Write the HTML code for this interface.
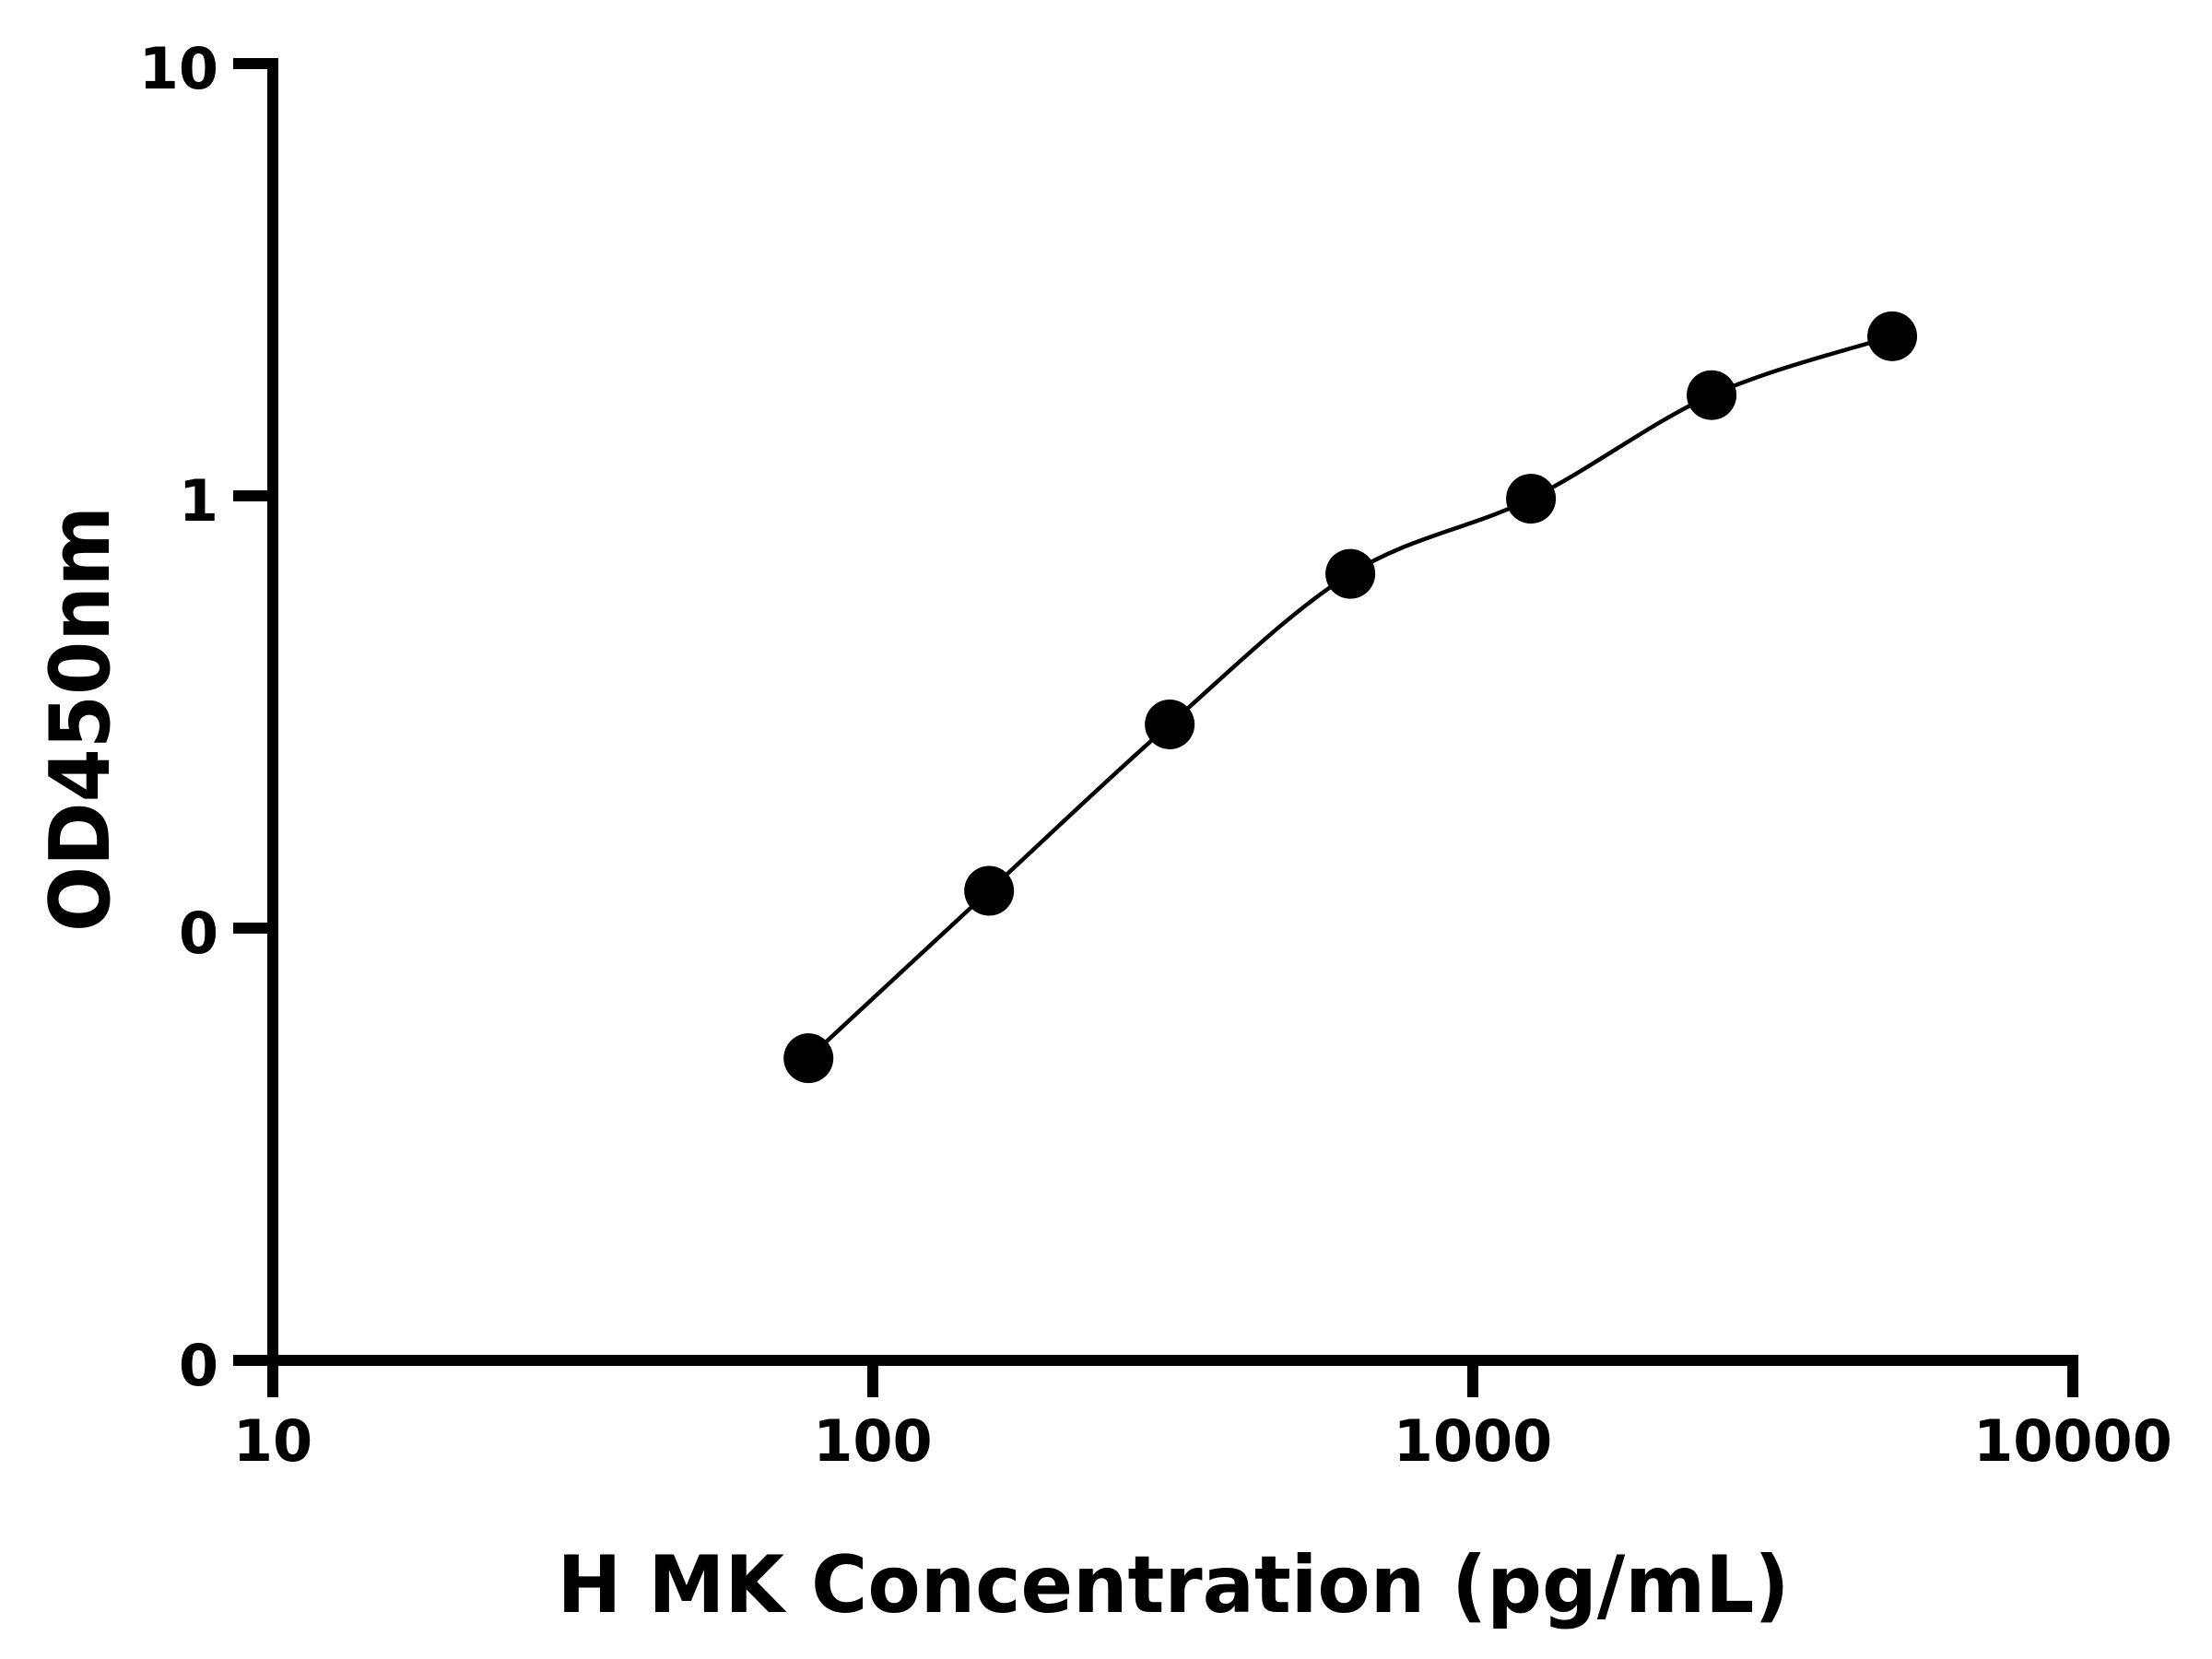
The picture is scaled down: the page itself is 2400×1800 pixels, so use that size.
<!DOCTYPE html>
<html><head><meta charset="utf-8"><style>html,body{margin:0;padding:0;background:#fff}svg{display:block}text{font-family:"DejaVu Sans","Liberation Sans",sans-serif;font-weight:bold;fill:#000}</style></head>
<body>
<svg id="chart" width="2400" height="1800" viewBox="0 0 2400 1800" xmlns="http://www.w3.org/2000/svg">
<g id="axes"></g>
<path id="curve" fill="none" stroke="#000" stroke-width="4.5"></path>
<g id="points"></g>
<text x="1273" y="1749" text-anchor="middle" font-size="86" textLength="1337" lengthAdjust="spacingAndGlyphs">H MK Concentration (pg/mL)</text>
<text transform="translate(118,780) rotate(-90)" x="0" y="0" text-anchor="middle" font-size="90" textLength="462" lengthAdjust="spacingAndGlyphs">OD450nm</text>
</svg>
<script>
const concentrations = [78.125, 156.25, 312.5, 625, 1250, 2500, 5000];
const odValues = [0.05, 0.122, 0.296, 0.66, 0.985, 1.71, 2.34];
const xTickValues = [10, 100, 1000, 10000];
const xTickLabels = ["10", "100", "1000", "10000"];
const yTickValues = [10, 1, 0.1, 0.01];
const yTickLabels = ["10", "1", "0", "0"];

const X0 = 296, X1 = 2249, Y0 = 1476, Y1 = 69;
function xs(v){ return X0 + (Math.log10(v) - 1) / 3 * (X1 - X0); }
function ys(v){ return Y0 - (Math.log10(v) + 2) / 3 * (Y0 - Y1); }
const NS = "http://www.w3.org/2000/svg";
const axes = document.getElementById('axes');
function mk(tag, attrs, parent){ const e = document.createElementNS(NS, tag); for (const k in attrs) e.setAttribute(k, attrs[k]); parent.appendChild(e); return e; }

const yAxis = mk('line', {x1: X0, y1: Y1 - 6, x2: X0, y2: Y0 + 6, stroke: '#000', 'stroke-width': 12}, axes);


const xAxis = mk('line', {x1: X0 - 6, y1: Y0, x2: X1 + 6, y2: Y0, stroke: '#000', 'stroke-width': 12}, axes);



xTickValues.forEach((v, i) => {
  const x = xs(v);
  const t = mk('line', {x1: x, y1: Y0, x2: x, y2: 1516, stroke: '#000', 'stroke-width': 12}, axes);
  
  
  const l = mk('text', {x: x, y: 1585, 'text-anchor': 'middle', 'font-size': 62}, axes);
  l.textContent = xTickLabels[i];
  
  
});
yTickValues.forEach((v, i) => {
  const y = ys(v);
  const t = mk('line', {x1: 253, y1: y, x2: X0, y2: y, stroke: '#000', 'stroke-width': 12}, axes);
  
  
  const l = mk('text', {x: 237, y: y + 27, 'text-anchor': 'end', 'font-size': 62}, axes);
  l.textContent = yTickLabels[i];
  
  
});

const pts = concentrations.map((c, i) => [xs(c), ys(odValues[i])]);
let d = 'M' + pts[0][0] + ',' + pts[0][1];
for (let i = 0; i < pts.length - 1; i++) {
  const p0 = pts[Math.max(i - 1, 0)], p1 = pts[i], p2 = pts[i + 1], p3 = pts[Math.min(i + 2, pts.length - 1)];
  const c1 = [p1[0] + (p2[0] - p0[0]) / 6, p1[1] + (p2[1] - p0[1]) / 6];
  const c2 = [p2[0] - (p3[0] - p1[0]) / 6, p2[1] - (p3[1] - p1[1]) / 6];
  d += ' C' + c1 + ' ' + c2 + ' ' + p2;
}
document.getElementById('curve').setAttribute('d', d);

const pg = document.getElementById('points');
pts.forEach(p => {
  const c = mk('circle', {cx: p[0], cy: p[1], r: 27, fill: '#000'}, pg);
  
  
});
</script>
</body></html>
